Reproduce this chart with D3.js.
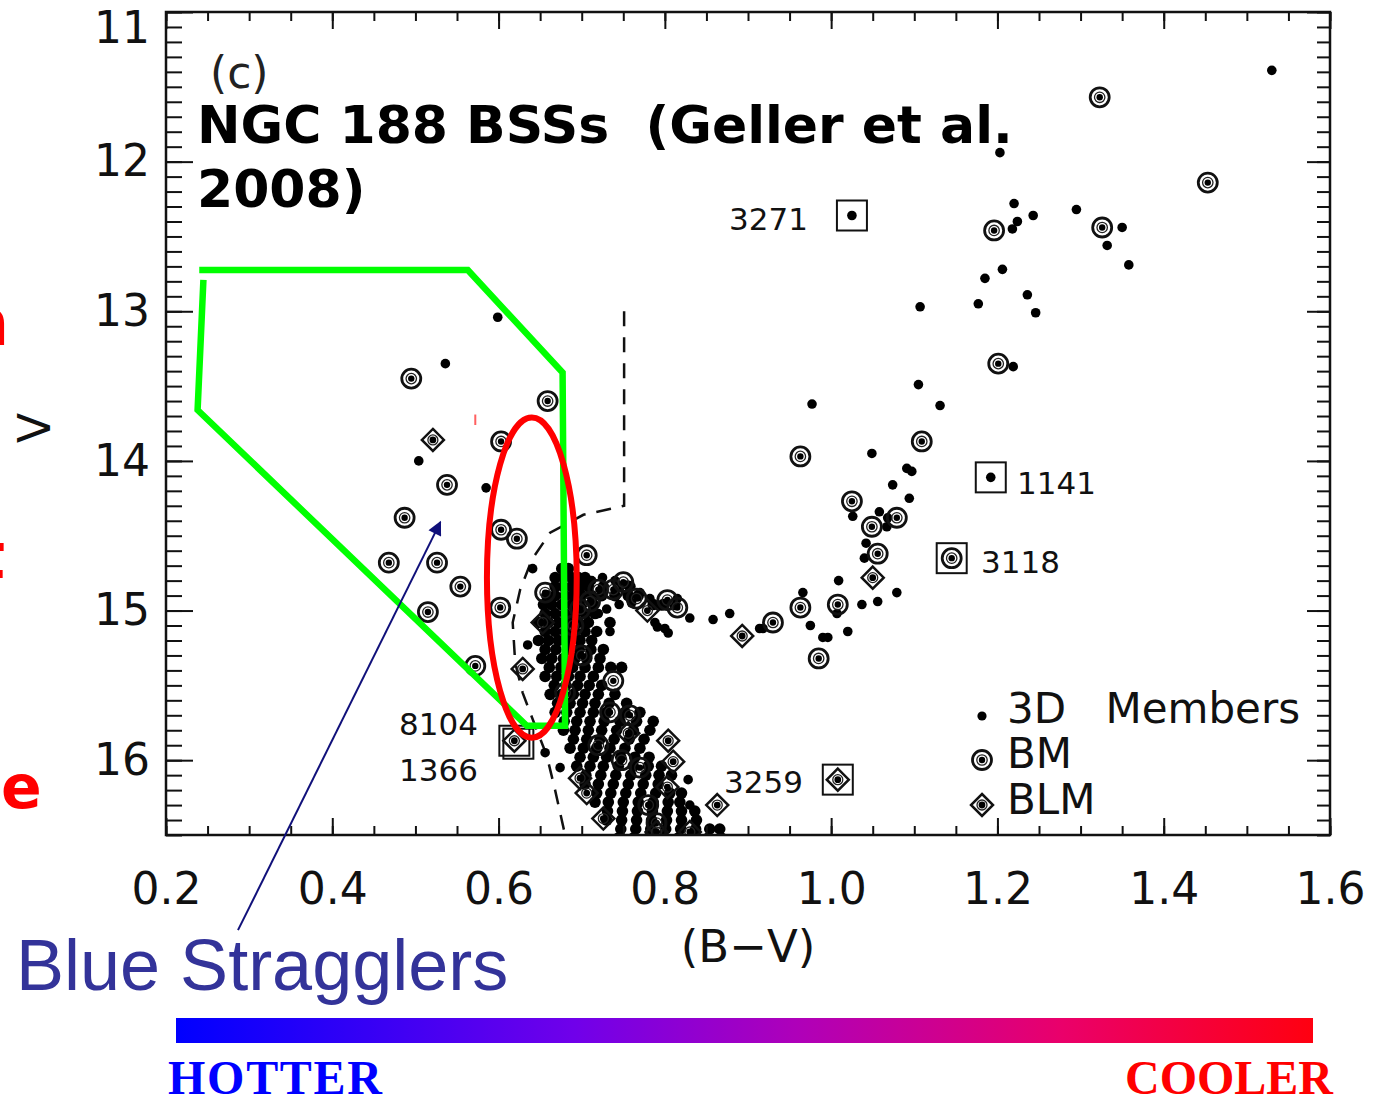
<!DOCTYPE html>
<html>
<head>
<meta charset="utf-8">
<script src="https://cdn.jsdelivr.net/npm/d3@7"></script>
<style>
body { margin: 0; background: #fff; }
svg { display: block; }
</style>
</head>
<body>
<script>
var w = 1377;
var h = 1103;

var margin = { top: 12, left: 166, right: 47, bottom: 268 };
var width = w - margin.left - margin.right;
var height = h - margin.top - margin.bottom;

// axis ticks
var xMajor = [0.2, 0.4, 0.6, 0.8, 1.0, 1.2, 1.4, 1.6];
var xLabels = ["0.2", "0.4", "0.6", "0.8", "1.0", "1.2", "1.4", "1.6"];
var yMajor = [11, 12, 13, 14, 15, 16];
var yLabels = ["11", "12", "13", "14", "15", "16"];

// 3D members, [B-V, V]
var members = [
  [0.599, 13.04], [0.536, 13.35], [0.504, 14.00], [0.585, 14.18], [0.641, 14.72], [0.635, 15.23],
  [1.530, 11.39], [1.203, 11.94], [1.220, 12.28], [1.224, 12.40], [1.218, 12.45], [1.243, 12.36],
  [1.295, 12.32], [1.350, 12.44], [1.332, 12.56], [1.358, 12.69], [1.206, 12.72], [1.185, 12.78],
  [1.177, 12.95], [1.236, 12.89], [1.246, 13.01], [1.107, 12.97], [1.219, 13.37],
  [0.977, 13.62], [1.105, 13.49], [1.131, 13.63], [1.049, 13.95], [1.091, 14.05], [1.097, 14.07],
  [1.074, 14.16], [1.094, 14.25], [1.058, 14.34], [1.068, 14.38], [1.067, 14.44], [1.026, 14.37],
  [1.042, 14.55], [1.040, 14.65], [1.009, 14.80], [1.079, 14.88], [1.037, 14.96], [1.056, 14.94],
  [0.966, 14.88], [1.007, 15.02], [0.975, 15.10], [0.990, 15.18], [0.996, 15.18], [1.020, 15.14],
  [0.918, 15.12], [0.830, 15.05], [0.858, 15.06], [0.878, 15.02], [0.914, 15.12], [0.791, 15.11],
  [0.804, 15.15], [0.734, 15.14], [0.656, 15.95], [0.674, 16.05], [0.828, 16.13], [0.830, 16.30],
  [0.800, 15.12], [0.788, 15.08], [1.025, 12.36], [1.192, 14.11],
  [0.712, 14.80], [0.725, 14.78], [0.740, 14.80], [0.755, 14.83], [0.770, 14.88], [0.782, 14.92],
  [0.760, 14.95], [0.745, 14.96], [0.730, 14.99], [0.720, 15.02], [0.796, 14.97], [0.815, 14.92]
];

// dense main sequence members, one row per V
var msRowV = [14.72, 14.78, 14.84, 14.90, 14.96, 15.02, 15.08, 15.14, 15.20, 15.26, 15.32, 15.38,
  15.44, 15.50, 15.56, 15.62, 15.68, 15.74, 15.80, 15.86, 15.92, 15.98, 16.04, 16.10, 16.16,
  16.22, 16.28, 16.34, 16.40, 16.46, 16.52];
var msRowBV = [
  [0.676, 0.684],
  [0.668, 0.678, 0.688, 0.696, 0.704],
  [0.668, 0.678, 0.688, 0.698, 0.708, 0.726, 0.744, 0.758],
  [0.658, 0.668, 0.680, 0.690, 0.700, 0.712, 0.724, 0.740, 0.756, 0.768],
  [0.654, 0.664, 0.676, 0.688, 0.700, 0.714, 0.786, 0.798, 0.812],
  [0.656, 0.668, 0.680, 0.692, 0.704, 0.716],
  [0.648, 0.660, 0.672, 0.684, 0.696, 0.708, 0.734],
  [0.656, 0.668, 0.680, 0.692, 0.704, 0.718],
  [0.648, 0.660, 0.672, 0.684, 0.698, 0.712],
  [0.656, 0.669, 0.683, 0.697, 0.711, 0.726],
  [0.652, 0.664, 0.678, 0.692, 0.706, 0.722],
  [0.661, 0.675, 0.689, 0.704, 0.720, 0.735, 0.748],
  [0.656, 0.670, 0.684, 0.698, 0.714],
  [0.667, 0.681, 0.695, 0.709, 0.724],
  [0.662, 0.676, 0.690, 0.704, 0.720, 0.740],
  [0.671, 0.686, 0.701, 0.716, 0.733, 0.754],
  [0.668, 0.682, 0.698, 0.714, 0.730, 0.752, 0.770],
  [0.679, 0.694, 0.710, 0.727, 0.746, 0.766, 0.786],
  [0.678, 0.692, 0.708, 0.724, 0.742, 0.762, 0.782],
  [0.690, 0.706, 0.722, 0.739, 0.757, 0.775],
  [0.686, 0.702, 0.718, 0.734, 0.752, 0.770],
  [0.698, 0.714, 0.730, 0.747, 0.764, 0.781],
  [0.694, 0.710, 0.726, 0.744, 0.762, 0.780, 0.796],
  [0.705, 0.723, 0.741, 0.759, 0.777, 0.793, 0.808],
  [0.704, 0.720, 0.738, 0.756, 0.774, 0.792],
  [0.718, 0.735, 0.753, 0.771, 0.789, 0.806, 0.820],
  [0.716, 0.732, 0.750, 0.768, 0.786, 0.804, 0.818],
  [0.731, 0.749, 0.767, 0.785, 0.803, 0.820, 0.836],
  [0.730, 0.748, 0.766, 0.784, 0.802, 0.820, 0.838],
  [0.747, 0.765, 0.783, 0.801, 0.819, 0.837, 0.854, 0.866],
  [0.744, 0.762, 0.780, 0.798, 0.816, 0.834, 0.852, 0.868]
];

// binary members (BM)
var bmStars = [
  [0.495, 13.45], [0.659, 13.60], [0.603, 13.87], [0.538, 14.16], [0.487, 14.38], [0.603, 14.46],
  [0.622, 14.52], [0.706, 14.63], [0.468, 14.68], [0.526, 14.68], [0.554, 14.84], [0.656, 14.88],
  [0.515, 15.01], [0.572, 15.37], [0.738, 15.47], [0.602, 14.98],
  [0.720, 14.86], [0.738, 14.86], [0.750, 14.81], [0.710, 14.94], [0.698, 14.99], [0.766, 14.92],
  [0.803, 14.93], [0.815, 14.98], [0.734, 15.68], [0.758, 15.70], [0.748, 16.00], [0.700, 15.30],
  [0.690, 15.10], [0.720, 15.90], [0.780, 16.30], [0.680, 15.55], [0.790, 16.42], [0.770, 16.05],
  [1.323, 11.57], [1.453, 12.14], [1.196, 12.46], [1.326, 12.44], [1.201, 13.35], [1.109, 13.87],
  [0.963, 13.97], [1.025, 14.27], [1.079, 14.38], [1.049, 14.44], [1.056, 14.62], [0.963, 14.98],
  [1.008, 14.96], [0.930, 15.08], [0.985, 15.32], [1.145, 14.65]
];

// binary likely members (BLM)
var blmStars = [
  [0.521, 13.86], [0.653, 15.08], [0.629, 15.39], [0.779, 15.00], [0.756, 15.82], [0.804, 15.87],
  [0.810, 16.01], [0.803, 16.18], [0.863, 16.30], [0.698, 16.12], [0.706, 16.22], [0.726, 16.39],
  [0.893, 15.17], [1.050, 14.78], [1.008, 16.13], [0.619, 15.87], [0.790, 16.48], [0.830, 16.48]
];

// boxed stars with ids
var boxedIds = ["3271", "1141", "3118", "3259", "8104"];
var boxedStars = [[1.025, 12.36], [1.192, 14.11], [1.145, 14.65], [1.008, 16.13], [0.619, 15.87]];

// dashed isochrone
var isochrone = [
  [0.751, 13.00], [0.751, 14.30], [0.735, 14.32], [0.702, 14.36], [0.662, 14.48], [0.640, 14.66],
  [0.626, 14.86], [0.617, 15.08], [0.620, 15.35], [0.629, 15.55], [0.644, 15.77], [0.658, 15.97],
  [0.668, 16.20], [0.680, 16.50]
];

// green selection outline
var greenBox = [
  [0.245, 12.79], [0.238, 13.66], [0.634, 15.77], [0.680, 15.77], [0.677, 13.41],
  [0.563, 12.725], [0.240, 12.725]
];

var x = d3.scaleLinear()
  .domain([0.2, 1.6])
  .range([margin.left, margin.left + width]);

var y = d3.scaleLinear()
  .domain([11, 16.5])
  .range([margin.top, margin.top + height]);

var svg = d3.select("body").append("svg")
  .attr("id", "svg")
  .attr("width", w)
  .attr("height", h)
  .style("font-family", "'DejaVu Sans', sans-serif");

svg.append("rect").attr("width", w).attr("height", h).attr("fill", "#fff");

var defs = svg.append("defs");
defs.append("clipPath").attr("id", "plotclip")
  .append("rect")
  .attr("x", margin.left).attr("y", margin.top)
  .attr("width", width).attr("height", height);

var grad = defs.append("linearGradient").attr("id", "tempgrad");
grad.append("stop").attr("offset", "0%").attr("stop-color", "#0000ff");
grad.append("stop").attr("offset", "35%").attr("stop-color", "#7000ea");
grad.append("stop").attr("offset", "55%").attr("stop-color", "#b000b8");
grad.append("stop").attr("offset", "78%").attr("stop-color", "#ea006a");
grad.append("stop").attr("offset", "100%").attr("stop-color", "#ff0010");

defs.append("marker")
  .attr("id", "arrowhead")
  .attr("viewBox", "0 0 10 10")
  .attr("refX", 9).attr("refY", 5)
  .attr("markerWidth", 18).attr("markerHeight", 14)
  .attr("markerUnits", "userSpaceOnUse")
  .attr("orient", "auto")
  .append("path")
  .attr("d", "M0,0L10,5L0,10Z")
  .attr("fill", "#10107a");

var chart = svg.append("g").attr("clip-path", "url(#plotclip)");

// isochrone
chart.append("path")
  .datum(isochrone)
  .attr("d", d3.line().x(function (d) { return x(d[0]); }).y(function (d) { return y(d[1]); }))
  .attr("fill", "none")
  .attr("stroke", "#111")
  .attr("stroke-width", 2.5)
  .attr("stroke-dasharray", "15,11");

// dots
var msPoints = [];
msRowV.forEach(function (v, i) {
  msRowBV[i].forEach(function (bv) { msPoints.push([bv, v]); });
});

chart.selectAll(".dot")
  .data(members)
  .enter()
  .append("circle")
  .classed("dot", true)
  .attr("cx", function (d) { return x(d[0]); })
  .attr("cy", function (d) { return y(d[1]); })
  .attr("r", 4.8)
  .attr("fill", "#000");

chart.selectAll(".msdot")
  .data(msPoints)
  .enter()
  .append("circle")
  .classed("msdot", true)
  .attr("cx", function (d) { return x(d[0]); })
  .attr("cy", function (d) { return y(d[1]); })
  .attr("r", 5.8)
  .attr("fill", "#000");

function drawBM(g, cx, cy) {
  g.append("circle").attr("cx", cx).attr("cy", cy).attr("r", 9.5)
    .attr("fill", "none").attr("stroke", "#111").attr("stroke-width", 2.8);
  g.append("circle").attr("cx", cx).attr("cy", cy).attr("r", 5.2)
    .attr("fill", "none").attr("stroke", "#222").attr("stroke-width", 1.3);
  g.append("circle").attr("cx", cx).attr("cy", cy).attr("r", 3.2)
    .attr("fill", "#000");
}

function drawBLM(g, cx, cy) {
  g.append("path")
    .attr("d", "M" + cx + "," + (cy - 11) + "L" + (cx + 11) + "," + cy + "L" + cx + "," + (cy + 11) + "L" + (cx - 11) + "," + cy + "Z")
    .attr("fill", "none").attr("stroke", "#111").attr("stroke-width", 2.5);
  g.append("circle").attr("cx", cx).attr("cy", cy).attr("r", 5)
    .attr("fill", "none").attr("stroke", "#222").attr("stroke-width", 1.3);
  g.append("circle").attr("cx", cx).attr("cy", cy).attr("r", 3.4)
    .attr("fill", "#000");
}

bmStars.forEach(function (d) { drawBM(chart, x(d[0]), y(d[1])); });
blmStars.forEach(function (d) { drawBLM(chart, x(d[0]), y(d[1])); });

// boxes around named stars
chart.selectAll(".box")
  .data(boxedStars)
  .enter()
  .append("rect")
  .classed("box", true)
  .attr("x", function (d) { return x(d[0]) - 15; })
  .attr("y", function (d) { return y(d[1]) - 15; })
  .attr("width", 30)
  .attr("height", 30)
  .attr("fill", "none")
  .attr("stroke", "#111")
  .attr("stroke-width", 2);
chart.append("rect")
  .attr("x", x(boxedStars[4][0]) - 11)
  .attr("y", y(boxedStars[4][1]) - 12)
  .attr("width", 30)
  .attr("height", 30)
  .attr("fill", "none")
  .attr("stroke", "#111")
  .attr("stroke-width", 2);

// axes
function styleAxis(g) {
  g.select(".domain").remove();
  g.selectAll("line").attr("stroke", "#111").attr("stroke-width", 2);
  g.selectAll("text").attr("font-family", "'DejaVu Sans', sans-serif").attr("font-size", 44).attr("fill", "#111");
}

var xMinor = d3.range(0, 29).map(function (i) { return 0.2 + i * 0.05; });
var yMinor = d3.range(0, 56).map(function (i) { return 11 + i * 0.1; });

svg.append("g").attr("transform", "translate(0," + (margin.top + height) + ")")
  .call(d3.axisBottom(x).tickValues(xMinor).tickSize(-9).tickSizeOuter(0).tickFormat(""))
  .call(styleAxis);
svg.append("g").attr("transform", "translate(0," + (margin.top + height) + ")")
  .call(d3.axisBottom(x).tickValues(xMajor).tickSize(-17).tickSizeOuter(0).tickPadding(38)
    .tickFormat(function (d, i) { return xLabels[i]; }))
  .call(styleAxis);
svg.append("g").attr("transform", "translate(0," + margin.top + ")")
  .call(d3.axisTop(x).tickValues(xMinor).tickSize(-9).tickSizeOuter(0).tickFormat(""))
  .call(styleAxis);
svg.append("g").attr("transform", "translate(0," + margin.top + ")")
  .call(d3.axisTop(x).tickValues(xMajor).tickSize(-17).tickSizeOuter(0).tickFormat(""))
  .call(styleAxis);

svg.append("g").attr("transform", "translate(" + margin.left + ",0)")
  .call(d3.axisLeft(y).tickValues(yMinor).tickSize(-16).tickSizeOuter(0).tickFormat(""))
  .call(styleAxis);
var yAxisG = svg.append("g").attr("transform", "translate(" + margin.left + ",0)")
  .call(d3.axisLeft(y).tickValues(yMajor).tickSize(-27).tickSizeOuter(0).tickPadding(16)
    .tickFormat(function (d, i) { return yLabels[i]; }))
  .call(styleAxis);
yAxisG.selectAll("text").filter(function (d) { return d === 11; }).attr("y", 16);
svg.append("g").attr("transform", "translate(" + (margin.left + width) + ",0)")
  .call(d3.axisRight(y).tickValues(yMinor).tickSize(-13).tickSizeOuter(0).tickFormat(""))
  .call(styleAxis);
svg.append("g").attr("transform", "translate(" + (margin.left + width) + ",0)")
  .call(d3.axisRight(y).tickValues(yMajor).tickSize(-23).tickSizeOuter(0).tickFormat(""))
  .call(styleAxis);

svg.append("rect")
  .attr("x", margin.left).attr("y", margin.top)
  .attr("width", width).attr("height", height)
  .attr("fill", "none").attr("stroke", "#111").attr("stroke-width", 2.5);

// axis titles
svg.append("text")
  .attr("x", 748).attr("y", 962)
  .attr("text-anchor", "middle")
  .attr("font-size", 45).attr("fill", "#111")
  .text("(B\u2212V)");
svg.append("text")
  .attr("transform", "translate(50,428) rotate(-90)")
  .attr("text-anchor", "middle")
  .attr("font-size", 44).attr("fill", "#111")
  .text("V");

// star ids
var idPos = [[808, 230, "end"], [1017, 494, "start"], [981, 573, "start"], [803, 793, "end"], [478, 735, "end"]];
boxedIds.forEach(function (t, i) {
  svg.append("text")
    .attr("x", idPos[i][0]).attr("y", idPos[i][1])
    .attr("text-anchor", idPos[i][2])
    .attr("font-size", 31).attr("fill", "#111")
    .text(t);
});
svg.append("text")
  .attr("x", 478).attr("y", 781)
  .attr("text-anchor", "end")
  .attr("font-size", 31).attr("fill", "#111")
  .text("1366");

// legend
var legend = svg.append("g");
legend.append("circle").attr("cx", 982).attr("cy", 716).attr("r", 4.6).attr("fill", "#000");
drawBM(legend, 982, 760);
drawBLM(legend, 982, 805);
var legendNames = ["3D Members", "BM", "BLM"];
var legendBase = [723, 768, 814];
legendNames.forEach(function (t, i) {
  legend.append("text")
    .attr("x", 1007).attr("y", legendBase[i])
    .attr("font-size", 42).attr("fill", "#111")
    .attr("word-spacing", 26)
    .text(t);
});

// panel label and title
svg.append("text")
  .attr("x", 210).attr("y", 88)
  .attr("font-size", 44).attr("fill", "#222")
  .text("(c)");
svg.append("text")
  .attr("x", 197).attr("y", 143)
  .attr("font-size", 52).attr("font-weight", "bold").attr("fill", "#000")
  .style("white-space", "pre")
  .text("NGC 188 BSSs  (Geller et al.");
svg.append("text")
  .attr("x", 197).attr("y", 207)
  .attr("font-size", 52).attr("font-weight", "bold").attr("fill", "#000")
  .text("2008)");

// annotations
svg.append("path")
  .datum(greenBox)
  .attr("d", d3.line().x(function (d) { return x(d[0]); }).y(function (d) { return y(d[1]); }))
  .attr("fill", "none")
  .attr("stroke", "#00ff00")
  .attr("stroke-width", 6.5)
  .attr("stroke-linejoin", "miter");

svg.append("ellipse")
  .attr("cx", x(0.640)).attr("cy", y(14.78))
  .attr("rx", x(0.694) - x(0.640)).attr("ry", y(15.85) - y(14.78))
  .attr("fill", "none")
  .attr("stroke", "#ff0000")
  .attr("stroke-width", 6);

svg.append("line")
  .attr("x1", x(0.572)).attr("y1", y(13.69))
  .attr("x2", x(0.572)).attr("y2", y(13.76))
  .attr("stroke", "#ff6060").attr("stroke-width", 2);

svg.append("line")
  .attr("x1", x(0.2866)).attr("y1", y(17.136))
  .attr("x2", x(0.530)).attr("y2", y(14.409))
  .attr("stroke", "#10107a")
  .attr("stroke-width", 2)
  .attr("marker-end", "url(#arrowhead)");

svg.append("text")
  .attr("x", 16).attr("y", 990)
  .attr("font-family", "'Liberation Sans', Arial, sans-serif")
  .attr("font-size", 72).attr("fill", "#333399")
  .text("Blue Stragglers");

svg.append("rect")
  .attr("x", 176).attr("y", 1018)
  .attr("width", 1137).attr("height", 25)
  .attr("fill", "url(#tempgrad)");

svg.append("text")
  .attr("x", 168).attr("y", 1094)
  .attr("font-family", "'Liberation Serif', 'Times New Roman', serif")
  .attr("font-size", 48).attr("font-weight", "bold").attr("fill", "#0000ff")
  .attr("textLength", 214)
  .text("HOTTER");
svg.append("text")
  .attr("x", 1333).attr("y", 1094)
  .attr("text-anchor", "end")
  .attr("font-family", "'Liberation Serif', 'Times New Roman', serif")
  .attr("font-size", 48).attr("font-weight", "bold").attr("fill", "#ff0000")
  .text("COOLER");

// red letters at the left edge, partly outside the picture as in the source
var edgeText = [["n", 9, 345, "end", 64], ["t", 5, 578, "end", 64], ["e", 1, 808, "start", 60]];
edgeText.forEach(function (d) {
  svg.append("text")
    .attr("x", d[1]).attr("y", d[2])
    .attr("text-anchor", d[3])
    .attr("font-size", d[4]).attr("font-weight", "bold").attr("fill", "#ff0000")
    .text(d[0]);
});
</script>
</body>
</html>
